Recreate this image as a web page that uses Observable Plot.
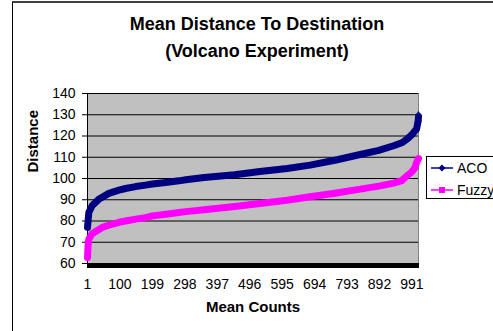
<!DOCTYPE html>
<html>
<head>
<meta charset="utf-8">
<script src="https://cdn.jsdelivr.net/npm/d3@7"></script>
<script src="https://cdn.jsdelivr.net/npm/@observablehq/plot@0.6"></script>
<style>
  html, body { margin: 0; padding: 0; background: #fff; }
  #wrap { position: relative; width: 493px; height: 331px; overflow: hidden; font-family: "Liberation Sans", Arial, sans-serif; color: #000; }
  #frame { position: absolute; left: 12px; top: 1px; width: 490px; height: 340px; border-top: 2px solid #404040; border-left: 1px solid #000; box-sizing: border-box; }
  #title { position: absolute; left: 12px; width: 490px; top: 11px; text-align: center; font-weight: bold; font-size: 18px; line-height: 27px; }
  #chart { position: absolute; left: 0; top: 0; }
  #legend { position: absolute; left: 426px; top: 156px; width: 90px; height: 43px; border: 1px solid #000; box-sizing: border-box; background: #fff; font-size: 14px; }
  .item { position: absolute; left: 4px; height: 16px; display: flex; align-items: center; white-space: nowrap; }
  .item svg { margin-right: 4px; }
</style>
</head>
<body>
<div id="wrap">
  <div id="frame"></div>
  <div id="chart"></div>
  <div id="title">Mean Distance To Destination<br>(Volcano Experiment)</div>
  <div id="legend"></div>
</div>
<script>
// Category positions (Mean Counts) sampled along the curves
const cats  = [1, 3, 5, 15, 36, 46, 66, 97, 117, 148, 178, 199, 240, 280, 301, 357, 450, 527, 610, 680, 756, 833, 890, 935, 960, 976, 990, 1000, 1005, 1008, 1010, 1011];
const aco   = [77.0, 80.5, 84.0, 87.2, 90.3, 91.2, 93.0, 94.5, 95.3, 96.2, 96.9, 97.4, 98.1, 98.9, 99.4, 100.5, 101.8, 103.3, 104.7, 106.3, 108.6, 111.3, 113.2, 115.4, 116.8, 118.5, 120.5, 122.4, 123.2, 125.6, 127.0, 129.2];
const fuzzy = [62.8, 69.0, 71.5, 74.0, 76.0, 77.0, 78.0, 79.4, 80.0, 80.9, 81.6, 82.4, 83.2, 84.0, 84.4, 85.3, 86.8, 88.2, 89.8, 91.4, 93.1, 95.0, 96.4, 97.8, 99.0, 101.3, 103.0, 105.0, 107.5, 108.5, 109.0, 109.4];
const seriesNames = ["ACO", "Fuzzy"];
const seriesColors = ["#000080", "#ff00ff"];
const xTickLabels = [1, 100, 199, 298, 397, 496, 595, 694, 793, 892, 991];
const yTickLabels = [60, 70, 80, 90, 100, 110, 120, 130, 140];
const nCategories = 1011;

const data = cats.flatMap((c, i) => [
  {x: c, y: aco[i], s: "ACO"},
  {x: c, y: fuzzy[i], s: "Fuzzy"}
]);

const chart = Plot.plot({
  width: 493,
  height: 331,
  marginLeft: 87,
  marginRight: 75,
  marginTop: 93,
  marginBottom: 68,
  style: {fontFamily: "'Liberation Sans', Arial, sans-serif", fontSize: "14px", color: "#000", background: "transparent", overflow: "visible"},
  x: {domain: [1, nCategories]},
  y: {domain: [60, 140]},
  color: {domain: seriesNames, range: seriesColors},
  marks: [
    Plot.frame({fill: "#c0c0c0", stroke: "#808080"}),
    Plot.gridY({ticks: yTickLabels, stroke: "#000", strokeOpacity: 1}),
    Plot.axisY({ticks: yTickLabels, tickSize: 5, tickPadding: 7, label: null}),
    Plot.ruleX([1], {stroke: "#000"}),
    Plot.lineY(data, {x: "x", y: "y", z: "s", stroke: "s", strokeWidth: 7}),
    Plot.dot(data.filter(d => d.s === "ACO" && d.x >= 1008), {x: "x", y: "y", fill: "s", symbol: "diamond", r: 3.5}),
    Plot.axisX({ticks: d3.range(1, nCategories + 1), tickSize: 5, tickFormat: () => "", label: null}),
    Plot.axisX({ticks: xTickLabels, tickSize: 0, tickPadding: 16, label: null}),
    Plot.ruleY([60], {stroke: "#000"}),
    Plot.text(["Distance"], {text: d => d, frameAnchor: "left", dx: -54, dy: -6, rotate: -90, fontWeight: "bold", fontSize: 15}),
    Plot.text(["Mean Counts"], {text: d => d, frameAnchor: "bottom", dy: 48, fontWeight: "bold", fontSize: 15})
  ]
});
document.getElementById("chart").appendChild(chart);

// Legend
const legend = document.getElementById("legend");
seriesNames.forEach((name, i) => {
  const item = document.createElement("div");
  item.className = "item";
  item.style.top = (i === 0 ? 3 : 25) + "px";
  const sym = i === 0
    ? `<polygon points="11,1.5 14.5,5 11,8.5 7.5,5" fill="${seriesColors[i]}"/>`
    : `<rect x="8" y="2" width="6" height="6" fill="${seriesColors[i]}"/>`;
  item.innerHTML = `<svg width="22" height="10"><line x1="0" y1="5" x2="22" y2="5" stroke="${seriesColors[i]}" stroke-width="1.5"/>${sym}</svg><span>${name}</span>`;
  legend.appendChild(item);
});
</script>
</body>
</html>
